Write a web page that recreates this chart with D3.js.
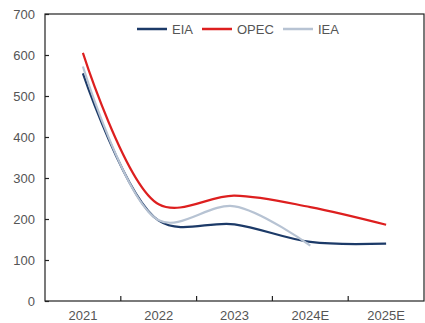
<!DOCTYPE html>
<html>
<head>
<meta charset="utf-8">
<script src="https://cdn.jsdelivr.net/npm/d3@7"></script>
<style>
  body { margin: 0; background: #fff; }
  svg text { font-family: "Liberation Sans", Arial, sans-serif; }
</style>
</head>
<body>
<div id="chart"></div>
<script>
var svgWidth = 425;
var svgHeight = 323;

var margin = { top: 14, right: 1, bottom: 22, left: 45 };
var width = svgWidth - margin.left - margin.right;
var height = svgHeight - margin.top - margin.bottom;

// data
var years = ["2021", "2022", "2023", "2024E", "2025E"];
var eia = [555, 196, 187, 144, 140];
var opec = [605, 236, 257, 229, 186];
var iea = [572, 197, 231, 135];
var yTicks = [0, 100, 200, 300, 400, 500, 600, 700];

var series = [
  { name: "EIA", values: eia, color: "#1c3a68" },
  { name: "OPEC", values: opec, color: "#dd1f1f" },
  { name: "IEA", values: iea, color: "#b7c3d3" }
];

var svg = d3.select("#chart")
  .append("svg")
  .attr("width", svgWidth)
  .attr("height", svgHeight);

var chartGroup = svg.append("g")
  .attr("transform", `translate(${margin.left}, ${margin.top})`);

var xScale = d3.scaleBand()
  .domain(years)
  .range([0, width])
  .padding(0);

var yScale = d3.scaleLinear()
  .domain([0, 700])
  .range([height, 0]);

// frame
chartGroup.append("rect")
  .attr("x", 0)
  .attr("y", 0)
  .attr("width", width)
  .attr("height", height)
  .attr("fill", "none")
  .attr("stroke", "#222")
  .attr("stroke-width", 1.2);

// y axis, ticks inside
var leftAxis = d3.axisLeft(yScale)
  .tickValues(yTicks)
  .tickSizeInner(-4)
  .tickSizeOuter(0)
  .tickPadding(10);

var yAxis = chartGroup.append("g").call(leftAxis);
yAxis.select(".domain").remove();
yAxis.selectAll("line").attr("stroke", "#222").attr("stroke-width", 1.2);
yAxis.selectAll("text")
  .attr("font-size", "13px")
  .attr("fill", "#555");

// x axis: labels at band centers, ticks at band boundaries
var bottomAxis = d3.axisBottom(xScale)
  .tickSize(0)
  .tickPadding(10);

var xAxis = chartGroup.append("g")
  .attr("transform", `translate(0, ${height})`)
  .call(bottomAxis);
xAxis.select(".domain").remove();
xAxis.selectAll("text")
  .attr("font-size", "13px")
  .attr("fill", "#555");

chartGroup.selectAll(".xtick")
  .data(years.slice(1))
  .enter()
  .append("line")
  .attr("class", "xtick")
  .attr("x1", d => xScale(d))
  .attr("x2", d => xScale(d))
  .attr("y1", height)
  .attr("y2", height - 5)
  .attr("stroke", "#222")
  .attr("stroke-width", 1.2);

// smoothed lines
var line = d3.line()
  .x((d, i) => xScale(years[i]) + xScale.bandwidth() / 2)
  .y(d => yScale(d))
  .curve(d3.curveCatmullRom.alpha(0.5));

chartGroup.selectAll(".series")
  .data(series)
  .enter()
  .append("path")
  .attr("class", "series")
  .attr("d", d => line(d.values))
  .attr("fill", "none")
  .attr("stroke", d => d.color)
  .attr("stroke-width", 2.2);

// legend
var legendX = [92, 157, 238];
var legend = chartGroup.selectAll(".legend")
  .data(series)
  .enter()
  .append("g")
  .attr("class", "legend")
  .attr("transform", (d, i) => `translate(${legendX[i]}, 15)`);

legend.append("line")
  .attr("x1", 0)
  .attr("x2", 30)
  .attr("stroke", d => d.color)
  .attr("stroke-width", 2.5);

legend.append("text")
  .attr("x", 35)
  .attr("dy", "0.35em")
  .attr("font-size", "13px")
  .attr("fill", "#555")
  .text(d => d.name);
</script>
</body>
</html>
